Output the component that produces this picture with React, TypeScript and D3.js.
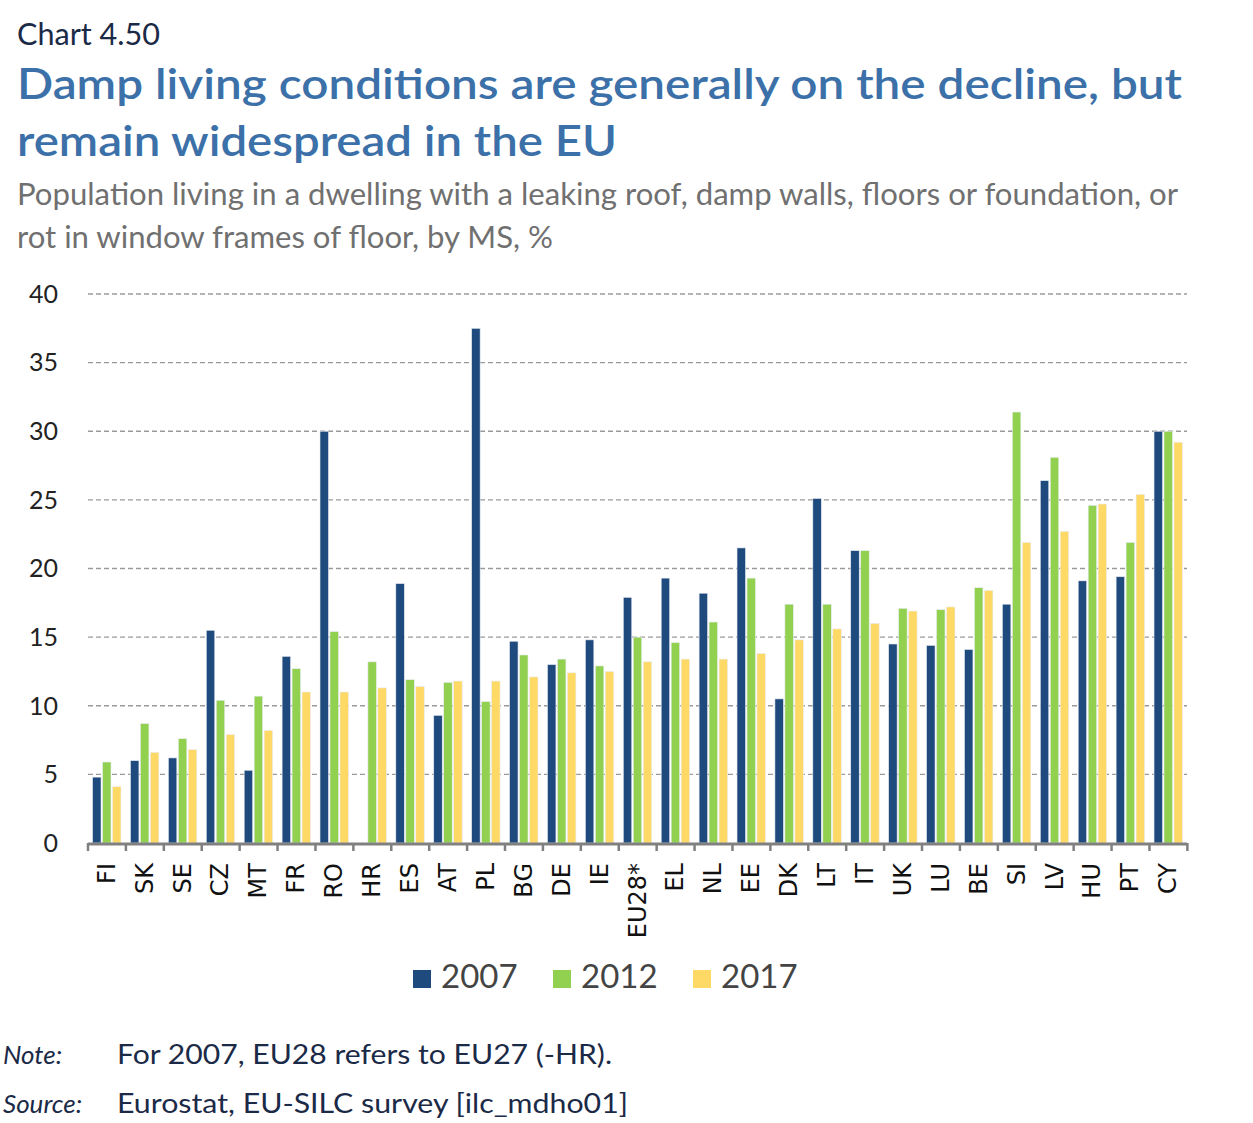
import React from 'react';
import * as d3 from 'd3';

const countries = ['FI', 'SK', 'SE', 'CZ', 'MT', 'FR', 'RO', 'HR', 'ES', 'AT', 'PL', 'BG', 'DE', 'IE', 'EU28*', 'EL', 'NL', 'EE', 'DK', 'LT', 'IT', 'UK', 'LU', 'BE', 'SI', 'LV', 'HU', 'PT', 'CY'];
const years = ['2007', '2012', '2017'];
const v2007 = [4.8, 6.0, 6.2, 15.5, 5.3, 13.6, 30.0, null, 18.9, 9.3, 37.5, 14.7, 13.0, 14.8, 17.9, 19.3, 18.2, 21.5, 10.5, 25.1, 21.3, 14.5, 14.4, 14.1, 17.4, 26.4, 19.1, 19.4, 30.0];
const v2012 = [5.9, 8.7, 7.6, 10.4, 10.7, 12.7, 15.4, 13.2, 11.9, 11.7, 10.3, 13.7, 13.4, 12.9, 15.0, 14.6, 16.1, 19.3, 17.4, 17.4, 21.3, 17.1, 17.0, 18.6, 31.4, 28.1, 24.6, 21.9, 30.0];
const v2017 = [4.1, 6.6, 6.8, 7.9, 8.2, 11.0, 11.0, 11.3, 11.4, 11.8, 11.8, 12.1, 12.4, 12.5, 13.2, 13.4, 13.4, 13.8, 14.8, 15.6, 16.0, 16.9, 17.2, 18.4, 21.9, 22.7, 24.7, 25.4, 29.2];
const yTicks = [0, 5, 10, 15, 20, 25, 30, 35, 40];
const colors = ['#1F4A7E', '#92D050', '#FFD966'];

const W = 1253;
const H = 1123;
const left = 88;
const right = 1187;
const top = 294;
const bottom = 843;

export default function App() {
  const series = [v2007, v2012, v2017];
  const x = d3.scaleBand().domain(countries).range([left, right]).paddingInner(0.25).paddingOuter(0.12);
  const xs = d3.scaleBand().domain(years).range([0, x.bandwidth()]).paddingInner(0.15);
  const y = d3.scaleLinear().domain([0, 40]).range([bottom, top]);
  const step = x.step();
  const font = 'Lato, "Open Sans", sans-serif';

  return (
    <svg width={W} height={H} style={{ position: 'absolute', left: 0, top: 0, background: '#fff' }}>
      <text x={17} y={45} fontFamily={font} fontSize={31} fill="#1b2a47" textLength={143} lengthAdjust="spacingAndGlyphs">Chart 4.50</text>
      <text x={17} y={99} fontFamily={font} fontSize={43} fontWeight={600} fill="#3c70a8" textLength={1165} lengthAdjust="spacingAndGlyphs">Damp living conditions are generally on the decline, but</text>
      <text x={17} y={156} fontFamily={font} fontSize={43} fontWeight={600} fill="#3c70a8" textLength={600} lengthAdjust="spacingAndGlyphs">remain widespread in the EU</text>
      <text x={17} y={205} fontFamily={font} fontSize={31} fill="#707070" textLength={1161} lengthAdjust="spacingAndGlyphs">Population living in a dwelling with a leaking roof, damp walls, floors or foundation, or</text>
      <text x={17} y={248} fontFamily={font} fontSize={31} fill="#707070" textLength={536} lengthAdjust="spacingAndGlyphs">rot in window frames of floor, by MS, %</text>

      {yTicks.map(t => (
        <g key={t}>
          {t > 0 && (
            <line x1={left} x2={right} y1={y(t)} y2={y(t)} stroke="#9a9a9a" strokeWidth={1.3} strokeDasharray="5,3" />
          )}
          <text x={58} y={y(t)} dy="0.35em" textAnchor="end" fontFamily={font} fontSize={25} fill="#222">{t}</text>
        </g>
      ))}

      {series.map((vals, si) => (
        <g key={si}>
          {countries.map((c, i) => {
            const v = vals[i];
            if (v == null) return null;
            return (
              <rect key={c} x={(x(c) as number) + (xs(years[si]) as number)} y={y(v)} width={xs.bandwidth()} height={y(0) - y(v)}
                fill={colors[si]} stroke="#e8ecf2" strokeWidth={0.6} />
            );
          })}
        </g>
      ))}

      <line x1={left} x2={right} y1={bottom + 1} y2={bottom + 1} stroke="#808080" strokeWidth={3} />
      {d3.range(countries.length + 1).map(i => (
        <line key={i} x1={left + i * step} x2={left + i * step} y1={bottom} y2={bottom + 8} stroke="#808080" strokeWidth={2.5} />
      ))}

      {countries.map(c => {
        const cx = (x(c) as number) + x.bandwidth() / 2;
        return (
          <text key={c} transform={`translate(${cx + 8},${bottom + 20}) rotate(-90)`} textAnchor="end"
            fontFamily='"DejaVu Sans", sans-serif' fontSize={24} fill="#111">{c}</text>
        );
      })}

      {years.map((yr, i) => (
        <g key={yr} transform={`translate(${413 + i * 140},970)`}>
          <rect width={18} height={18} fill={colors[i]} />
          <text x={28} y={18} fontFamily={font} fontSize={33} fill="#444">{yr}</text>
        </g>
      ))}

      <text x={3} y={1064} fontFamily={font} fontSize={26} fontStyle="italic" fill="#1b2a47">Note:</text>
      <text x={117} y={1064} fontFamily={font} fontSize={26} fill="#1b2a47" textLength={495} lengthAdjust="spacingAndGlyphs">For 2007, EU28 refers to EU27 (-HR).</text>
      <text x={3} y={1113} fontFamily={font} fontSize={26} fontStyle="italic" fill="#1b2a47">Source:</text>
      <text x={117} y={1113} fontFamily={font} fontSize={26} fill="#1b2a47" textLength={511} lengthAdjust="spacingAndGlyphs">Eurostat, EU-SILC survey [ilc_mdho01]</text>
    </svg>
  );
}
